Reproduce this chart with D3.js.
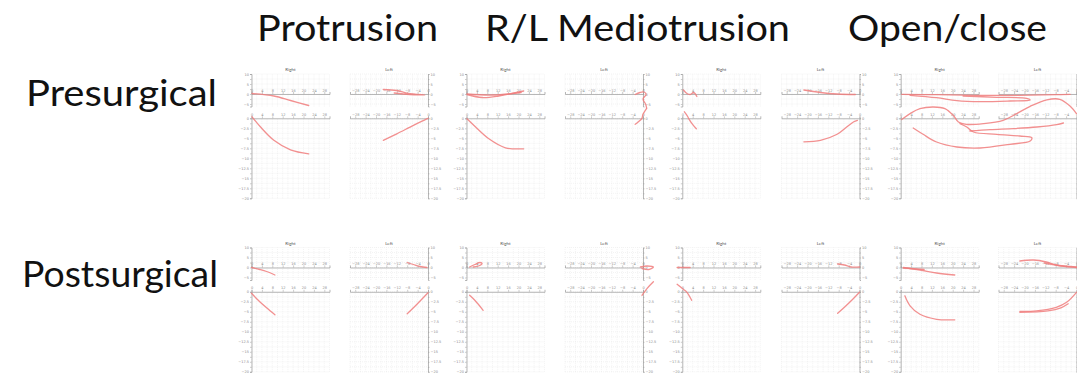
<!DOCTYPE html>
<html>
<head>
<meta charset="utf-8">
<script src="https://cdn.jsdelivr.net/npm/d3@7"></script>
<style>
  body { margin: 0; background: #fff; }
  text { font-family: Lato, "Open Sans", sans-serif; }
</style>
</head>
<body>
<div id="chart"></div>
<script>
// column / row headings
var movements = ["Protrusion", "R/L Mediotrusion", "Open/close"];
var sessions = ["Presurgical", "Postsurgical"];
var sides = ["Right", "Left"];

// axis ticks (mm)
var xTickValues = [0, 2, 4, 6, 8, 10, 12, 14];
var stripTickValues = [-2, -1, 0, 1, 2, 3, 4];
var bottomTickValues = [0, -1, -2, -3, -4, -5, -6, -7, -8, -9, -10, -11, -12, -13, -14, -15, -16];

// traces, presurgical  [x mm, y mm]
var preProR_top = [[0.1, 0.1], [4.3, -0.4], [7.5, -1.3], [11, -2.3]];
var preProR_bot = [[0.1, 0.3], [1.7, -1.7], [4.3, -4.4], [7.5, -6.3], [11, -7.1]];
var preProL_top = [[-8.6, 0.9], [-6, 0.7], [-3.8, 0.1], [-0.6, -0.2], [-3.5, -0.1], [-6.5, 0.2]];
var preProL_bot = [[-8.6, -4.4], [-6, -3.1], [-2.8, -1.4], [-0.6, -0.3], [0, 0]];
var preRmR_top = [[0.1, -0.1], [3, -0.7], [6.2, -0.4], [11, 0.6]];
var preRmR_top2 = [[0.1, 0], [5, -0.2], [10.5, 0.3]];
var preRmR_bot = [[0.1, -0.1], [1.7, -1.7], [4.3, -4.1], [7.5, -5.9], [11, -6.1]];
var preRmL_top = [[-1.5, -0.1], [-0.6, 0.3], [0.2, 0.4], [0.6, -0.1], [0, -1], [0.5, -2], [0.7, -2.8]];
var preRmL_bot = [[0.7, 2], [0, 0.8], [-0.2, 0], [-1, -0.8], [-1.5, -1.2]];
var preLmR_top = [[0.2, 0.8], [0.9, 0.1], [1.5, -0.1], [2.2, 0.3], [2.8, -0.5]];
var preLmR_bot = [[0.4, 1.3], [0.9, 0.6], [1.2, 0], [1.9, -1.1], [2.7, -2.1]];
var preLmL_top = [[-10.7, 0.8], [-7.5, 0.3], [-4.3, 0], [-0.8, -0.1]];
var preLmL_bot = [[-10.7, -4.7], [-7.5, -4.4], [-4.3, -3.2], [-2.4, -1.7], [-1.1, -0.7], [-0.4, -0.4]];
var preOcA_top = [[0.2, -0.06], [6.9, -0.14], [14.6, -0.26], [22.9, -0.26], [30, -0.14], [32.6, -0.06]];
var preOcB_top = [[1.8, -0.26], [6.9, -0.74], [10.8, -1.34], [15.3, -1.54], [21, -1.4], [24.9, -1.2], [24.2, -0.86], [18.5, -0.66], [12, -0.4]];
var preOcC_bot = [[0.2, -0.26], [1.8, 0.94], [3.7, 1.94], [6.3, 2.26], [8.5, 1.94], [10.1, 0.6], [11.1, -0.74], [12.6, -1.2], [15.9, -1.06], [19.7, -0.4], [22.3, 0.94], [24.9, 2.4], [28.1, 3.7], [30.6, 3.8], [32.6, 2.4], [33.8, 0.94]];
var preOcD_bot = [[2.4, -1.94], [4.3, -3.2], [6.9, -4.74], [10.8, -5.74], [15.3, -5.94], [21, -5.2], [24.9, -4.54], [25.2, -3.86], [22.9, -3.54], [18.5, -3.2], [14, -2.74], [12.7, -1.74], [11.4, -1.06]];
var preOcE_bot = [[13.3, -2.54], [17.2, -2.26], [21.7, -2.06], [26.2, -1.74], [30, -1.26], [31.3, -0.94]];

// traces, postsurgical
var postProR_top = [[0, 0], [1.6, -0.4], [2.9, -0.8], [4.5, -1.5]];
var postProR_bot = [[0, -0.3], [1.3, -1.7], [2.9, -3.2], [4.5, -4.6]];
var postProL_top = [[-4, 1], [-2.8, 0.6], [-1.5, 0.2], [-0.2, 0]];
var postProL_bot = [[-4, -4.4], [-2.8, -3.2], [-1.2, -1.5], [0, -0.2]];
var postRmR_top = [[0.6, 0.1], [1.6, 0.6], [2.6, 1], [3, 0.8], [2.3, 0.3], [1.3, 0.1]];
var postRmR_bot = [[0.6, -0.7], [1.6, -1.7], [3.2, -3.7]];
var postRmL_top = [[-0.5, 0.1], [0.8, 0.3], [2, 0.1], [1.1, -0.4], [-0.2, -0.2]];
var postRmL_bot = [[-0.2, -0.7], [0.8, 0.7], [2, 2]];
var postLmR_top = [[-1, 0], [1.5, 0]];
var postLmR_bot = [[-1, 1.5], [0.2, 0.5], [0.9, -0.1], [1.8, -1.7]];
var postLmL_top = [[-4.2, 0.7], [-2.9, 0.5], [-1.6, 0.1], [0, 0.1]];
var postLmL_bot = [[-4.2, -4.3], [-2.9, -3.1], [-1.3, -1.5], [0, -0.1]];
var postOcR_top = [[0.5, 0], [3.7, -0.5], [6.9, -1.1], [10.4, -1.5]];
var postOcR_top2 = [[0.5, -0.1], [4.5, -0.4]];
var postOcR_bot = [[0.8, -0.8], [1.8, -2.8], [3.7, -4.5], [6.9, -5.5], [10.4, -5.6]];
var postOcL_top = [[-10.9, 1.3], [-8.3, 1.5], [-5.8, 1.1], [-3.9, 0.5], [0, 0.1]];
var postOcL_top2 = [[-6.2, 0.9], [-3, 0.3], [0, 0]];
var postOcL_bot = [[-10.9, -3.9], [-7.7, -3.8], [-3.9, -3.1], [-1.9, -2.1], [0, -0.1]];
var postOcL_bot2 = [[-10.9, -4.1], [-5.5, -3.8], [-3, -3.2], [-1.6, -2.4]];

// panel, row, side (0 right, 1 left), strip (top / bot), points
var traces = [
  [0, 0, 0, "top", preProR_top], [0, 0, 0, "bot", preProR_bot],
  [0, 0, 1, "top", preProL_top], [0, 0, 1, "bot", preProL_bot],
  [1, 0, 0, "top", preRmR_top], [1, 0, 0, "top", preRmR_top2], [1, 0, 0, "bot", preRmR_bot],
  [1, 0, 1, "top", preRmL_top], [1, 0, 1, "bot", preRmL_bot],
  [2, 0, 0, "top", preLmR_top], [2, 0, 0, "bot", preLmR_bot],
  [2, 0, 1, "top", preLmL_top], [2, 0, 1, "bot", preLmL_bot],
  [3, 0, 0, "top", preOcA_top], [3, 0, 0, "top", preOcB_top],
  [3, 0, 0, "bot", preOcC_bot], [3, 0, 0, "bot", preOcD_bot], [3, 0, 0, "bot", preOcE_bot],
  [0, 1, 0, "top", postProR_top], [0, 1, 0, "bot", postProR_bot],
  [0, 1, 1, "top", postProL_top], [0, 1, 1, "bot", postProL_bot],
  [1, 1, 0, "top", postRmR_top], [1, 1, 0, "bot", postRmR_bot],
  [1, 1, 1, "top", postRmL_top], [1, 1, 1, "bot", postRmL_bot],
  [2, 1, 0, "top", postLmR_top], [2, 1, 0, "bot", postLmR_bot],
  [2, 1, 1, "top", postLmL_top], [2, 1, 1, "bot", postLmL_bot],
  [3, 1, 0, "top", postOcR_top], [3, 1, 0, "top", postOcR_top2], [3, 1, 0, "bot", postOcR_bot],
  [3, 1, 1, "top", postOcL_top], [3, 1, 1, "top", postOcL_top2],
  [3, 1, 1, "bot", postOcL_bot], [3, 1, 1, "bot", postOcL_bot2]
];

// layout
var width = 1077, height = 374;
var rightAxisX = [251.5, 466.5, 682.3, 900.7];
var leftAxisX = [428, 643, 859.5, 1076.5];
var stripY = [94, 267.5];
var botGap = 24.3;
var plotW = 78;        // 15 mm
var pxPerMm = 5;       // vertical

var svg = d3.select("#chart").append("svg")
    .attr("width", width)
    .attr("height", height);

// build the scales of one sub-plot
function subplot(p, r, s) {
  var x = d3.scaleLinear();
  if (s === 0) x.domain([0, 15]).range([rightAxisX[p], rightAxisX[p] + plotW]);
  else x.domain([-15, 0]).range([leftAxisX[p] - plotW, leftAxisX[p]]);
  var y0 = stripY[r], y1 = stripY[r] + botGap;
  var yTop = d3.scaleLinear().domain([0, 1]).range([y0, y0 - pxPerMm]);
  var yBot = d3.scaleLinear().domain([0, 1]).range([y1, y1 - pxPerMm]);
  return {x: x, top: yTop, bot: yBot, axisX: s === 0 ? rightAxisX[p] : leftAxisX[p]};
}

var gridCol = "#e6e6e6", axisCol = "#9a9a9a", labCol = "#8a8a8a";

function drawFrame(p, r, s) {
  var sc = subplot(p, r, s);
  var g = svg.append("g");
  var xr = sc.x.range();
  var xs = d3.range(sc.x.domain()[0], sc.x.domain()[1] + 0.01, 1);
  var atEdge = sc.axisX > width - 10;   // right-hand labels would fall off the page

  [["top", [-2.5, 4], stripTickValues], ["bot", [-16, 0], bottomTickValues]].forEach(function (part) {
    var y = sc[part[0]], dom = part[1];
    // dotted grid
    g.selectAll(null).data(xs).enter().append("line")
        .attr("x1", function (d) { return sc.x(d); }).attr("x2", function (d) { return sc.x(d); })
        .attr("y1", y(dom[0])).attr("y2", y(dom[1]))
        .attr("stroke", gridCol).attr("stroke-width", 0.5).attr("stroke-dasharray", "1,1");
    g.selectAll(null).data(d3.range(Math.ceil(dom[0]), dom[1] + 0.01, 1)).enter().append("line")
        .attr("x1", xr[0]).attr("x2", xr[1])
        .attr("y1", function (d) { return y(d); }).attr("y2", function (d) { return y(d); })
        .attr("stroke", gridCol).attr("stroke-width", 0.5).attr("stroke-dasharray", "1,1");

    // vertical axis
    var yAx = d3.scaleLinear().domain(dom).range([y(dom[0]), y(dom[1])]);
    var ya = (s === 0 ? d3.axisLeft(yAx) : d3.axisRight(yAx))
        .tickValues(part[2]).tickSize(1.5).tickPadding(1)
        .tickFormat(function (d) {
          if (atEdge || d % 2 !== 0) return "";
          return d3.format("")(d * (part[0] === "top" ? 2.5 : 1.25));
        });
    var ga = g.append("g").attr("transform", "translate(" + sc.axisX + ",0)").call(ya);
    styleAxis(ga);

    // horizontal zero axis
    var xa = d3.axisTop(sc.x).tickValues(s === 0 ? xTickValues : xTickValues.map(function (d) { return -d; }))
        .tickSize(2).tickPadding(0.5).tickFormat(function (d) { return d3.format("")(d * 2); });
    var gx = g.append("g").attr("transform", "translate(0," + y(0) + ")").call(xa);
    styleAxis(gx);
  });

  // sub-plot title
  g.append("text")
      .attr("x", (xr[0] + xr[1]) / 2)
      .attr("y", sc.top(0) - 23)
      .attr("text-anchor", "middle")
      .attr("font-size", 4.5)
      .attr("fill", "#555")
      .text(sides[s]);
}

function styleAxis(ga) {
  ga.select(".domain").attr("stroke", axisCol).attr("stroke-width", 0.7);
  ga.selectAll(".tick line").attr("stroke", axisCol).attr("stroke-width", 0.5);
  ga.selectAll(".tick text").attr("font-size", 3.5).attr("fill", labCol)
      .style("font-family", "DejaVu Sans");
}

for (var r = 0; r < 2; r++) {
  for (var p = 0; p < 4; p++) {
    drawFrame(p, r, 0);
    drawFrame(p, r, 1);
  }
}

// red movement traces
var line = d3.line().curve(d3.curveCatmullRom.alpha(0.5));
traces.forEach(function (t) {
  var sc = subplot(t[0], t[1], t[2]);
  var y = sc[t[3]];
  var pts = t[4].map(function (d) { return [sc.x(d[0]), y(d[1])]; });
  svg.append("path")
      .attr("d", line(pts))
      .attr("fill", "none")
      .attr("stroke", "#f07c7c")
      .attr("stroke-opacity", 0.85)
      .attr("stroke-width", 1.3)
      .attr("stroke-linecap", "round");
});

// headings
var headX = [257, 485, 848], headW = [181, 305, 199];
movements.forEach(function (m, i) {
  svg.append("text")
      .attr("x", headX[i]).attr("y", 41)
      .attr("font-size", 36).attr("fill", "#111")
      .attr("textLength", headW[i]).attr("lengthAdjust", "spacingAndGlyphs")
      .text(m);
});
var rowX = [26, 22], rowY = [106, 287], rowW = [191, 196];
sessions.forEach(function (s, i) {
  svg.append("text")
      .attr("x", rowX[i]).attr("y", rowY[i])
      .attr("font-size", 36).attr("fill", "#111")
      .attr("textLength", rowW[i]).attr("lengthAdjust", "spacingAndGlyphs")
      .text(s);
});
</script>
</body>
</html>
